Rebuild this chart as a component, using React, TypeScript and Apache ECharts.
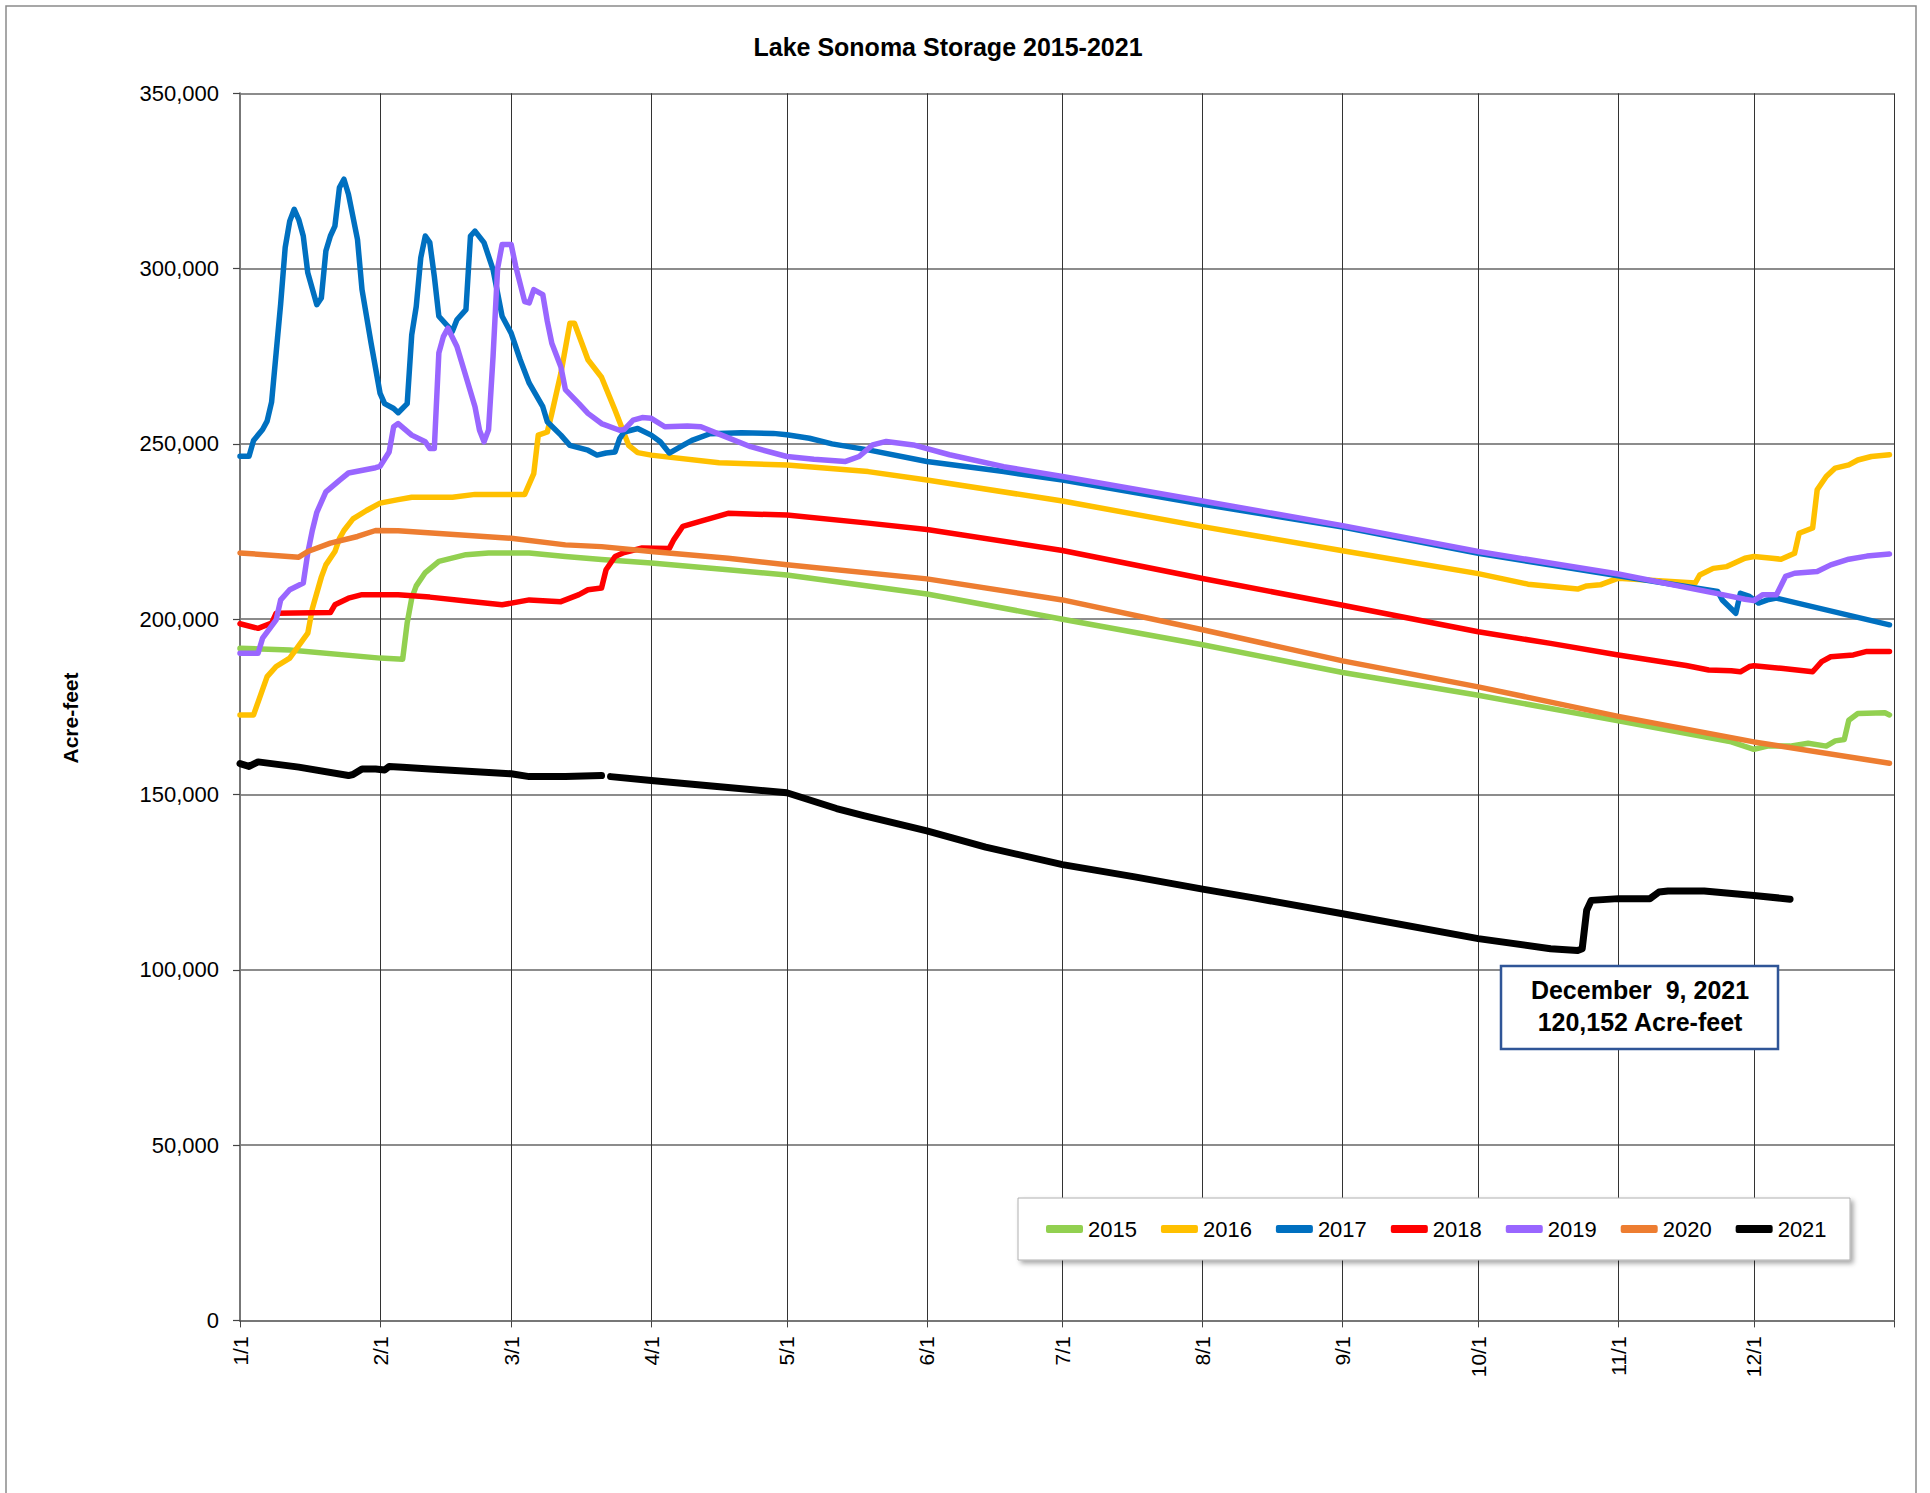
import React, { useEffect, useRef } from "react";
import * as echarts from "echarts";

// Month-start day indices on a 366-day (leap) calendar, plus the year-end boundary
const monthStarts = [0, 31, 60, 91, 121, 152, 182, 213, 244, 274, 305, 335, 366];
const monthLabels = ["1/1", "2/1", "3/1", "4/1", "5/1", "6/1", "7/1", "8/1", "9/1", "10/1", "11/1", "12/1", ""];
const yearNames = ["2015", "2016", "2017", "2018", "2019", "2020", "2021"];
const yearColors = ["#92D050", "#FFC000", "#0070C0", "#FF0000", "#9966FF", "#ED7D31", "#000000"];

// [day index, acre-feet]
const s2015 = [
  [0, 191700], [11, 191200], [31, 188900], [36, 188600], [37, 199000], [38, 206000], [39, 209500],
  [41, 213300], [44, 216500], [50, 218400], [55, 218900], [64, 218900], [72, 217900], [80, 217000],
  [91, 216000], [108, 214100], [121, 212600], [152, 207200], [182, 200000], [213, 192700],
  [244, 184800], [274, 178300], [305, 171000], [330, 165000], [335, 162900], [338, 163800], [343, 163800],
  [347, 164600], [351, 163800], [353, 165300], [355, 165700], [356, 171200], [358, 173100], [364, 173300],
  [365, 172700],
];
const s2016 = [
  [0, 172700], [3, 172700], [6, 183600], [8, 186500], [11, 188900], [15, 196000], [16, 203000], [18, 212000],
  [19, 215500], [21, 219300], [22, 223000], [23, 225300], [25, 228600], [28, 231000], [31, 233100],
  [35, 234100], [38, 234800], [47, 234800], [52, 235600], [63, 235600], [65, 241500], [66, 252500],
  [68, 253400], [69, 258700], [71, 270100], [73, 284400], [74, 284400], [77, 274000], [80, 269000],
  [83, 259600], [86, 249600], [88, 247500], [91, 246800], [106, 244600], [121, 244000], [139, 242100],
  [152, 239700], [182, 233700], [213, 226400], [244, 219500], [274, 213000], [285, 210000],
  [296, 208600], [298, 209500], [301, 209800], [305, 211700], [322, 210300], [323, 212600], [326, 214500],
  [329, 215000], [333, 217400], [335, 217900], [339, 217400], [341, 217100], [344, 218800], [345, 224500],
  [348, 226000], [349, 236900], [351, 240700], [353, 243100], [356, 244000], [358, 245400], [361, 246400],
  [365, 246900],
];
const s2017 = [
  [0, 246500], [2, 246500], [3, 251000], [5, 254100], [6, 256500], [7, 262000], [8, 276000], [9, 290000],
  [10, 306000], [11, 313500], [12, 316900], [13, 314000], [14, 309300], [15, 298800], [17, 289700],
  [18, 291600], [19, 305000], [20, 309300], [21, 312100], [22, 323100], [23, 325500], [24, 321200],
  [26, 308300], [27, 294000], [29, 278800], [31, 264400], [32, 261500], [34, 260100], [35, 258900],
  [37, 261500], [38, 281100], [39, 289200], [40, 303100], [41, 309300], [42, 307400], [43, 297800],
  [44, 286400], [47, 282100], [48, 285400], [50, 288300], [51, 309300], [52, 310700], [54, 307400],
  [56, 299700], [58, 286400], [60, 281600], [62, 274000], [64, 267300], [67, 260600], [68, 256300],
  [71, 252500], [73, 249600], [77, 248200], [79, 246800], [81, 247400], [83, 247700], [84, 251500],
  [85, 253400], [88, 254400], [91, 252500], [93, 250600], [95, 247400], [98, 249600], [100, 251000],
  [104, 252900], [111, 253200], [118, 253000], [121, 252600], [126, 251600], [131, 250000], [139, 248300],
  [152, 245000], [169, 242100], [182, 239700], [213, 232800], [244, 226300], [274, 218800],
  [305, 212400], [327, 207900], [328, 205500], [331, 201700], [332, 207400], [334, 206500], [336, 204600],
  [338, 205500], [340, 206000], [365, 198400],
];
const s2018 = [
  [0, 198700], [4, 197400], [7, 198900], [8, 201700], [20, 201900], [21, 204100], [24, 206000], [27, 207000],
  [35, 207000], [42, 206300], [50, 205200], [58, 204100], [64, 205500], [71, 205000], [75, 207000],
  [77, 208400], [80, 208900], [81, 214100], [83, 217900], [85, 219000], [89, 220300], [95, 220200],
  [96, 222700], [98, 226500], [102, 228000], [108, 230200], [121, 229700], [139, 227400], [152, 225600],
  [182, 219600], [213, 211600], [244, 204000], [274, 196400], [290, 193100],
  [305, 189800], [320, 186800], [325, 185500], [330, 185300], [332, 185000], [334, 186500], [335, 186700],
  [341, 186000], [348, 185000], [350, 187900], [352, 189300], [357, 189800], [360, 190800], [365, 190800],
];
const s2019 = [
  [0, 190300], [4, 190300], [5, 194600], [8, 199800], [9, 205500], [11, 208400], [14, 210300], [15, 218900],
  [16, 225300], [17, 230500], [19, 236300], [22, 239600], [24, 241700], [30, 243200], [31, 243600],
  [33, 247700], [34, 254900], [35, 255800], [38, 252500], [41, 250600], [42, 248700], [43, 248700],
  [44, 275900], [45, 280600], [46, 283000], [48, 277800], [50, 269200], [52, 260600], [53, 253900],
  [54, 250600], [55, 254000], [56, 275000], [57, 300000], [58, 306900], [60, 306900], [61, 300700],
  [63, 290600], [64, 290200], [65, 294000], [67, 292600], [68, 285000], [69, 278700], [71, 272000],
  [72, 265500], [75, 261500], [77, 258700], [80, 255800], [84, 253900], [85, 254100], [87, 256800],
  [89, 257500], [91, 257300], [94, 254900], [99, 255100], [102, 254900], [106, 252800], [113, 249200],
  [121, 246400], [127, 245600], [134, 245000], [137, 246400], [140, 249700], [143, 250700], [149, 249700],
  [157, 246900], [169, 243500], [182, 240700], [213, 233700], [244, 226700], [274, 219300],
  [305, 212900], [330, 206500], [333, 205700], [335, 205300], [337, 207000], [340, 207000], [342, 212200],
  [344, 213100], [349, 213600], [352, 215500], [356, 217100], [360, 218000], [365, 218600],
];
const s2020 = [
  [0, 218900], [13, 217700], [15, 219300], [20, 221700], [26, 223600], [30, 225300], [35, 225200],
  [60, 223100], [72, 221200], [80, 220700], [91, 219300], [108, 217400], [121, 215500], [152, 211500],
  [182, 205500], [213, 197000], [244, 188100], [274, 180700], [305, 172300],
  [335, 165000], [365, 158900],
];
const s2021 = [
  [0, 158800], [2, 158000], [4, 159300], [13, 157800], [24, 155400], [25, 155700], [27, 157300],
  [30, 157300], [32, 157000], [33, 158000], [36, 157800], [42, 157300], [60, 155900], [64, 155100],
  [72, 155100], [80, 155400], [81, null], [82, 155100], [91, 154000], [108, 152000], [121, 150500],
  [132, 146000], [138, 144000], [152, 139600], [165, 135000], [182, 130000], [198, 126500], [213, 123000],
  [224, 120600], [244, 116000], [274, 108900], [290, 106000], [296, 105500], [297, 106000], [298, 117000],
  [299, 119800], [305, 120300], [312, 120300], [314, 122200], [316, 122500], [324, 122500], [335, 121200],
  [343, 120152],
];
const seriesData = [s2015, s2016, s2017, s2018, s2019, s2020, s2021];

const yTicks = { min: 0, max: 350000, interval: 50000 };
const noteLines = ["December  9, 2021", "120,152 Acre-feet"];
const chartTitle = "Lake Sonoma Storage 2015-2021";
const yName = "Acre-feet";

const FONT = '"Liberation Sans", Arial, sans-serif';

export default function App() {
  const ref = useRef<HTMLDivElement>(null);
  useEffect(() => {
    if (!ref.current) return;
    const chart = echarts.init(ref.current, null, { renderer: "svg" });
    const categories = Array.from({ length: 367 }, (_, i) => {
      const k = monthStarts.indexOf(i);
      return k >= 0 ? monthLabels[k] : "";
    });
    const isMonth = (idx: number) => monthStarts.indexOf(idx) >= 0;

    const option: any = {
      animation: false,
      backgroundColor: "#ffffff",
      textStyle: { fontFamily: FONT },
      grid: { left: 240, top: 93.3, right: 36, bottom: 172.6, containLabel: false },
      xAxis: {
        type: "category",
        data: categories,
        boundaryGap: false,
        axisLine: { show: true, lineStyle: { color: "#777", width: 2 } },
        axisTick: { show: true, interval: isMonth, length: 7, lineStyle: { color: "#444", width: 1 } },
        axisLabel: {
          show: true,
          interval: isMonth,
          rotate: 90,
          margin: 16,
          fontSize: 21,
          color: "#000",
          fontFamily: FONT,
        },
        splitLine: { show: true, interval: isMonth, lineStyle: { color: "#333", width: 1 } },
      },
      yAxis: {
        type: "value",
        min: yTicks.min,
        max: yTicks.max,
        interval: yTicks.interval,
        axisLine: { show: true, lineStyle: { color: "#777", width: 2 } },
        axisTick: { show: true, length: 7, lineStyle: { color: "#444", width: 1.2 } },
        axisLabel: {
          margin: 21,
          fontSize: 22,
          color: "#000",
          fontFamily: FONT,
          formatter: (v: number) => v.toLocaleString("en-US"),
        },
        splitLine: { show: true, lineStyle: { color: "#666", width: 1.5 } },
      },
      legend: {
        data: yearNames,
        left: 1046,
        top: 1217,
        orient: "horizontal",
        padding: 0,
        itemGap: 24,
        itemWidth: 37,
        itemHeight: 8,
        icon: "roundRect",
        z: 6,
        textStyle: { fontSize: 22, color: "#000", fontFamily: FONT, lineHeight: 24 },
      },
      graphic: [
        {
          type: "rect",
          z: 0,
          silent: true,
          shape: { x: 6, y: 6, width: 1910, height: 1500 },
          style: { fill: "none", stroke: "#8a8a8a", lineWidth: 1.5 },
        },
        {
          type: "text",
          z: 5,
          x: 948,
          y: 47,
          style: {
            text: chartTitle,
            fontSize: 25,
            fontWeight: "bold",
            fontFamily: FONT,
            fill: "#000",
            textAlign: "center",
            textVerticalAlign: "middle",
          },
        },
        {
          type: "text",
          z: 5,
          x: 70,
          y: 718,
          rotation: Math.PI / 2,
          style: {
            text: yName,
            fontSize: 21,
            fontWeight: "bold",
            fontFamily: FONT,
            fill: "#000",
            textAlign: "center",
            textVerticalAlign: "middle",
          },
        },
        {
          type: "rect",
          z: 5,
          shape: { x: 1018, y: 1198, width: 832, height: 62 },
          style: {
            fill: "#ffffff",
            stroke: "#b0b0b0",
            lineWidth: 1,
            shadowBlur: 5,
            shadowOffsetX: 3,
            shadowOffsetY: 3,
            shadowColor: "rgba(0,0,0,0.35)",
          },
        },
        {
          type: "rect",
          z: 5,
          shape: { x: 1501, y: 966, width: 277, height: 83 },
          style: { fill: "#ffffff", stroke: "#2F5597", lineWidth: 2.5 },
        },
        {
          type: "text",
          z: 6,
          x: 1640,
          y: 990,
          style: {
            text: noteLines[0],
            fontSize: 25,
            fontWeight: "bold",
            fontFamily: FONT,
            fill: "#000",
            textAlign: "center",
            textVerticalAlign: "middle",
          },
        },
        {
          type: "text",
          z: 6,
          x: 1640,
          y: 1022,
          style: {
            text: noteLines[1],
            fontSize: 25,
            fontWeight: "bold",
            fontFamily: FONT,
            fill: "#000",
            textAlign: "center",
            textVerticalAlign: "middle",
          },
        },
      ],
      series: yearNames.map((name, i) => ({
        name,
        type: "line",
        data: seriesData[i].map(([d, v]) => [d, v === null ? "-" : v]),
        showSymbol: false,
        symbol: "none",
        connectNulls: false,
        color: yearColors[i],
        itemStyle: { color: yearColors[i] },
        lineStyle: {
          color: yearColors[i],
          width: name === "2021" ? 7 : 5.5,
          cap: "round",
          join: "round",
        },
        z: 2 + i * 0.01,
      })),
    };
    chart.setOption(option);
    return () => chart.dispose();
  }, []);
  return (
    <div
      ref={ref}
      style={{ position: "absolute", left: 0, top: 0, width: 1930, height: 1493 }}
    />
  );
}
